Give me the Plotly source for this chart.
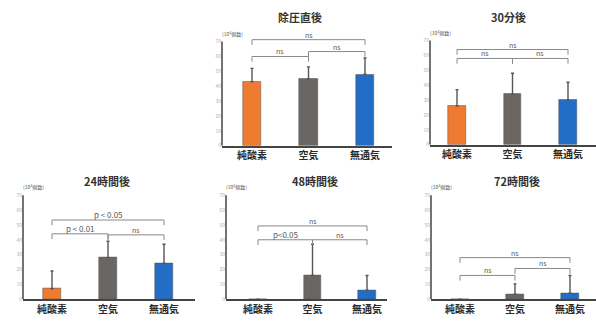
import plotly.graph_objects as go

# ---------------- data ----------------
categories = ["純酸素", "空気", "無通気"]
titles = ["除圧直後", "30分後", "24時間後", "48時間後", "72時間後"]
unit_label = "(10³個数)"
y_ticks = [0, 10, 20, 30, 40, 50, 60, 70]

mean_immediate = [43, 45, 48]
err_immediate = [9, 8, 11]
mean_30min = [26, 34, 30]
err_30min = [11, 14, 12]
mean_24h = [7, 28, 24]
err_24h = [12, 11, 13]
mean_48h = [0, 16, 6]
err_48h = [0, 21, 10]
mean_72h = [0, 3.3, 4]
err_72h = [0, 7, 12]

# significance brackets: (from category index, to category index, y value, label)
br_immediate = [(0, 1, 60, "ns"), (1, 2, 63.3, "ns"), (0, 2, 71.3, "ns")]
br_30min = [(0, 1, 58, "ns"), (1, 2, 58, "ns"), (0, 2, 64, "ns")]
br_24h = [(0, 1, 44, "p < 0.01"), (1, 2, 43.3, "ns"), (0, 2, 53.3, "p < 0.05")]
br_48h = [(0, 1, 40, "p<0.05"), (1, 2, 40, "ns"), (0, 2, 49.3, "ns")]
br_72h = [(0, 1, 16, "ns"), (1, 2, 20.7, "ns"), (0, 2, 28, "ns")]

means = [mean_immediate, mean_30min, mean_24h, mean_48h, mean_72h]
errs = [err_immediate, err_30min, err_24h, err_48h, err_72h]
brackets = [br_immediate, br_30min, br_24h, br_48h, br_72h]

bar_colors = ["#EF7A32", "#6A6663", "#226DC6"]

# ---------------- layout (pixels) ----------------
W, H = 596, 325
# (axis left px, axis right px, baseline px, first category center px, category spacing px, title x, title y)
panels = [
    (222, 392, 147, 252, 56.5, 300, 17),
    (430, 596, 146, 457, 55.5, 508, 17),
    (23, 195, 302, 52, 56, 107, 183),
    (226, 387, 302, 258, 54.5, 315, 183),
    (431, 596, 302, 460, 55, 517, 183),
]
px_per_unit = 1.5
y_max = 80

FONT = "Noto Sans CJK JP"
fig = go.Figure()
layout = dict(
    width=W, height=H, margin=dict(l=0, r=0, t=0, b=0),
    paper_bgcolor="white", plot_bgcolor="white", showlegend=False,
    font=dict(family=FONT), bargap=0,
)
shapes = []
annotations = []

for i, (xl, xr, base, c0, sp, tx, ty) in enumerate(panels):
    n = "" if i == 0 else str(i + 1)
    xa, ya = "x" + n, "y" + n
    top = base - y_max * px_per_unit
    x_range = [(xl - c0) / sp, (xr - c0) / sp]
    layout["xaxis" + n] = dict(
        domain=[xl / W, xr / W], anchor=ya, range=x_range,
        tickmode="array", tickvals=[0, 1, 2],
        ticktext=["<b>" + c + "</b>" for c in categories],
        showline=True, linecolor="#444", linewidth=1.5, ticks="",
        showgrid=False, zeroline=False,
        tickfont=dict(family=FONT, size=10, color="#2a2a2a"),
    )
    layout["yaxis" + n] = dict(
        domain=[1 - base / H, 1 - top / H], anchor=xa, range=[0, y_max],
        tickmode="array", tickvals=y_ticks, showline=False, showgrid=False,
        zeroline=False, ticks="", ticklen=0,
        tickfont=dict(size=5, color="#b0b0b0"),
    )
    fig.add_trace(go.Bar(
        x=[0, 1, 2], y=means[i], xaxis=xa, yaxis=ya, width=0.32,
        marker=dict(color=bar_colors, line=dict(color="#555", width=0.5)),
        error_y=dict(type="data", array=errs[i], arrayminus=[0, 0, 0],
                     symmetric=False, color="#555", thickness=1.4, width=1.5),
        hoverinfo="skip",
    ))
    # y axis line up to top tick
    shapes.append(dict(type="line", xref=xa + " domain", yref=ya, x0=0, x1=0,
                       y0=0, y1=y_ticks[-1], line=dict(color="#444", width=1.5)))
    # brackets
    for (a, b, yv, lab) in brackets[i]:
        d = 3.5
        shapes.append(dict(type="path", xref=xa, yref=ya,
                           path=f"M {a},{yv - d} L {a},{yv} L {b},{yv} L {b},{yv - d}",
                           line=dict(color="#888", width=1)))
        annotations.append(dict(x=(a + b) / 2, y=yv, xref=xa, yref=ya,
                                text=lab, showarrow=False, yanchor="bottom",
                                borderpad=0, yshift=-1,
                                font=dict(size=8 if "p" in lab else 7, color="#555")))
    # title
    annotations.append(dict(x=tx / W, y=1 - ty / H, xref="paper", yref="paper",
                            text="<b>" + titles[i] + "</b>", showarrow=False,
                            xanchor="center", yanchor="middle",
                            borderpad=0, font=dict(size=11, color="#333")))
    # unit label
    annotations.append(dict(x=(xl + 10) / W, y=1 - (base - 70 * px_per_unit - 8) / H,
                            xref="paper", yref="paper", text=unit_label,
                            xanchor="center", yanchor="middle",
                            showarrow=False, borderpad=0,
                            font=dict(size=5, color="#555")))

layout["shapes"] = shapes
layout["annotations"] = annotations
fig.update_layout(**layout)
fig.write_html("out.html")
